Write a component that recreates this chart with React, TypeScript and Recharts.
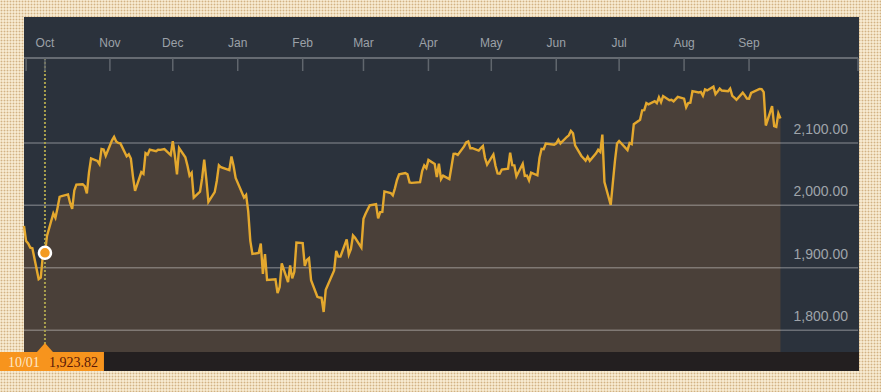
import {
  Area,
  ComposedChart,
  Line,
  ReferenceDot,
  ReferenceLine,
  XAxis,
  YAxis,
} from "recharts";

// one row per calendar month: trading days and closing levels
const months = [
  "2015-09", "2015-10", "2015-11", "2015-12", "2016-01", "2016-02", "2016-03",
  "2016-04", "2016-05", "2016-06", "2016-07", "2016-08", "2016-09",
];

const tradingDays = [
  [21, 22, 23, 24, 25, 28, 29, 30],
  [1, 2, 5, 6, 7, 8, 9, 12, 13, 14, 15, 16, 19, 20, 21, 22, 23, 26, 27, 28, 29, 30],
  [2, 3, 4, 5, 6, 9, 10, 11, 12, 13, 16, 17, 18, 19, 20, 23, 24, 25, 27, 30],
  [1, 2, 3, 4, 7, 8, 9, 10, 11, 14, 15, 16, 17, 18, 21, 22, 23, 24, 28, 29, 30, 31],
  [4, 5, 6, 7, 8, 11, 12, 13, 14, 15, 19, 20, 21, 22, 25, 26, 27, 28, 29],
  [1, 2, 3, 4, 5, 8, 9, 10, 11, 12, 16, 17, 18, 19, 22, 23, 24, 25, 26, 29],
  [1, 2, 3, 4, 7, 8, 9, 10, 11, 14, 15, 16, 17, 18, 21, 22, 23, 24, 28, 29, 30, 31],
  [1, 4, 5, 6, 7, 8, 11, 12, 13, 14, 15, 18, 19, 20, 21, 22, 25, 26, 27, 28, 29],
  [2, 3, 4, 5, 6, 9, 10, 11, 12, 13, 16, 17, 18, 19, 20, 23, 24, 25, 26, 27, 31],
  [1, 2, 3, 6, 7, 8, 9, 10, 13, 14, 15, 16, 17, 20, 21, 22, 23, 24, 27, 28, 29, 30],
  [1, 5, 6, 7, 8, 11, 12, 13, 14, 15, 18, 19, 20, 21, 22, 25, 26, 27, 28, 29],
  [1, 2, 3, 4, 5, 8, 9, 10, 11, 12, 15, 16, 17, 18, 19, 22, 23, 24, 25, 26, 29, 30, 31],
  [1, 2, 6, 7, 8, 9, 12, 13, 14, 15, 16],
];

const closes = [
  [1966.97, 1942.74, 1938.76, 1932.24, 1931.34, 1881.77, 1884.09, 1920.03],
  [1923.82, 1951.36, 1987.05, 1979.92, 1995.83, 2013.43, 2014.89, 2017.46, 2003.69, 1994.24, 2023.86,
    2033.11, 2033.66, 2030.77, 2018.94, 2052.51, 2075.15, 2071.18, 2065.89, 2090.35, 2089.41, 2079.36],
  [2104.05, 2109.79, 2102.31, 2099.93, 2099.2, 2078.58, 2081.72, 2075.0, 2045.97, 2023.04, 2053.19,
    2050.44, 2083.58, 2081.24, 2089.17, 2086.59, 2089.14, 2088.87, 2090.11, 2080.41],
  [2102.63, 2079.51, 2049.62, 2091.69, 2077.07, 2063.59, 2047.62, 2052.23, 2012.37, 2021.94, 2043.41,
    2073.07, 2041.89, 2005.55, 2021.15, 2038.97, 2064.29, 2060.99, 2056.5, 2078.36, 2063.36, 2043.94],
  [2012.66, 2016.71, 1990.26, 1943.09, 1922.03, 1923.67, 1938.68, 1890.28, 1921.84, 1880.33, 1881.33,
    1859.33, 1868.99, 1906.9, 1877.08, 1903.63, 1882.95, 1893.36, 1940.24],
  [1939.38, 1903.03, 1912.53, 1915.45, 1880.05, 1853.44, 1852.21, 1851.86, 1829.08, 1864.78, 1895.58,
    1926.82, 1917.83, 1917.78, 1945.5, 1921.27, 1929.8, 1951.7, 1948.05, 1932.23],
  [1978.35, 1986.45, 1993.4, 1999.99, 2001.76, 1979.26, 1989.26, 1989.57, 2022.19, 2019.64, 2015.93,
    2027.22, 2040.59, 2049.58, 2051.6, 2049.8, 2036.71, 2035.94, 2037.05, 2055.01, 2063.95, 2059.74],
  [2072.78, 2066.13, 2045.17, 2066.66, 2041.91, 2047.6, 2041.99, 2061.72, 2082.42, 2082.78, 2080.73,
    2094.34, 2100.8, 2102.4, 2091.48, 2091.58, 2087.79, 2091.7, 2095.15, 2075.81, 2065.3],
  [2081.43, 2063.37, 2051.12, 2050.63, 2057.14, 2058.69, 2084.39, 2064.46, 2064.11, 2046.61, 2066.66,
    2047.21, 2047.63, 2040.04, 2052.32, 2048.04, 2076.06, 2090.54, 2090.1, 2099.06, 2096.95],
  [2099.33, 2105.26, 2099.13, 2109.41, 2112.13, 2119.12, 2115.48, 2096.07, 2079.06, 2075.32, 2071.5,
    2077.99, 2071.22, 2083.25, 2088.9, 2085.45, 2113.32, 2037.41, 2000.54, 2036.09, 2070.77, 2098.86],
  [2102.95, 2088.55, 2099.73, 2097.9, 2129.9, 2137.16, 2152.14, 2152.43, 2163.75, 2161.74, 2166.89,
    2163.78, 2173.02, 2165.17, 2175.03, 2168.48, 2169.18, 2166.58, 2170.06, 2173.6],
  [2170.84, 2157.03, 2163.79, 2164.25, 2182.87, 2180.89, 2181.74, 2175.49, 2185.79, 2184.05, 2190.15,
    2178.15, 2182.22, 2187.02, 2183.87, 2182.64, 2186.9, 2175.44, 2172.47, 2169.04, 2180.38, 2176.12,
    2170.95],
  [2170.86, 2179.98, 2186.48, 2186.16, 2181.3, 2127.81, 2159.04, 2127.02, 2125.77, 2147.26, 2139.16],
];

const monthTicks = [
  "2015-10-01", "2015-11-01", "2015-12-01", "2016-01-01", "2016-02-01", "2016-03-01",
  "2016-04-01", "2016-05-01", "2016-06-01", "2016-07-01", "2016-08-01", "2016-09-01",
];
const monthLabels = ["Oct", "Nov", "Dec", "Jan", "Feb", "Mar", "Apr", "May", "Jun", "Jul", "Aug", "Sep"];

const axisStart = "2015-09-21";
const axisEnd = "2016-10-23";

const priceTicks = [1800, 1900, 2000, 2100];
const priceDomain = [1765, 2236];

const selectedDate = "2015-10-01";

const toTime = (s: string) => {
  const [y, m, d] = s.split("-").map(Number);
  return Date.UTC(y, m - 1, d);
};

const data: { t: number; close: number }[] = [];
months.forEach((m, i) => {
  tradingDays[i].forEach((d, j) => {
    data.push({ t: toTime(`${m}-${d}`), close: closes[i][j] });
  });
});

const selectedT = toTime(selectedDate);
const selectedClose = data.find((r) => r.t === selectedT)?.close ?? 0;

const xTicks = [toTime(axisStart) + 86400000, ...monthTicks.map(toTime), toTime(axisEnd)];
const labelByTime = new Map(monthTicks.map((s, i) => [toTime(s), monthLabels[i]]));

const SANS = "'Liberation Sans', Arial, sans-serif";
const SERIF = "'Liberation Serif', 'Times New Roman', serif";
const fmt = (v: number) => v.toLocaleString("en-US", { minimumFractionDigits: 2 });

function MonthTick(props: any) {
  const { x, y, payload } = props;
  const label = labelByTime.get(payload.value);
  return (
    <g>
      <line x1={x} x2={x} y1={y} y2={y + 13} stroke="#60666d" strokeWidth={1.5} />
      {label && (
        <text x={x} y={y - 11} textAnchor="middle" fill="#9ca1a8" fontSize={12} fontFamily={SANS}>
          {label}
        </text>
      )}
    </g>
  );
}

function GridLabel({ viewBox, value }: any) {
  return (
    <text
      x={viewBox.x + viewBox.width - 10}
      y={viewBox.y - 9}
      textAnchor="end"
      fill="#9fa4aa"
      fontSize={14}
      fontFamily={SANS}
    >
      {fmt(value)}
    </text>
  );
}

function SelectionTip({ viewBox }: any) {
  const x = viewBox.x;
  const bottom = viewBox.y + viewBox.height;
  const [, mm, dd] = selectedDate.split("-");
  return (
    <g>
      <path d={`M${x - 8},${bottom} L${x},${bottom - 9} L${x + 8},${bottom} Z`} fill="#f7941d" />
      <rect x={x - 45} y={bottom} width={104} height={19} fill="#f7941d" />
      <text x={x - 37} y={bottom + 14.5} fill="#fde8c8" fontSize={14} fontFamily={SERIF}>
        {`${mm}/${dd}`}
      </text>
      <text x={x + 4} y={bottom + 14.5} fill="#5a1808" fontSize={14} fontFamily={SERIF}>
        {fmt(selectedClose)}
      </text>
    </g>
  );
}

export default function App() {
  return (
    <div
      style={{
        position: "fixed",
        left: 0,
        top: 0,
        width: 881,
        height: 392,
        backgroundColor: "#f6e9cf",
        backgroundImage: "radial-gradient(circle, #d2b283 0.8px, transparent 1.1px)",
        backgroundSize: "3px 3px",
        overflow: "hidden",
      }}
    >
      <div
        style={{
          position: "absolute",
          left: 24,
          top: 17,
          width: 835,
          height: 354,
          background: "linear-gradient(to bottom, #2b323c 0, #2b323c 335px, #231f20 335px)",
        }}
      />
      <div style={{ position: "absolute", left: 0, top: 0 }}>
        <ComposedChart
          width={881}
          height={392}
          data={data}
          margin={{ top: 17, right: 23, bottom: 40, left: 24 }}
        >
          <XAxis
            dataKey="t"
            type="number"
            orientation="top"
            domain={[toTime(axisStart), toTime(axisEnd)]}
            ticks={xTicks}
            height={41}
            tickSize={0}
            tickMargin={0}
            tickLine={false}
            axisLine={{ stroke: "#666b72", strokeWidth: 2 }}
            tick={<MonthTick />}
            interval={0}
          />
          <YAxis type="number" domain={priceDomain} ticks={priceTicks} hide allowDataOverflow />
          <Area
            dataKey="close"
            type="linear"
            stroke="none"
            fill="#4a4039"
            fillOpacity={1}
            isAnimationActive={false}
          />
          {priceTicks.map((v) => (
            <ReferenceLine
              key={v}
              y={v}
              stroke="rgba(255,255,255,0.3)"
              strokeWidth={1.5}
              label={(p: any) => <GridLabel viewBox={p.viewBox} value={v} />}
            />
          ))}
          <Line
            dataKey="close"
            type="linear"
            stroke="#e4a82e"
            strokeWidth={2.4}
            dot={false}
            isAnimationActive={false}
          />
          <ReferenceLine
            x={selectedT}
            stroke="#a9a04e"
            strokeWidth={2}
            strokeDasharray="2 2"
            label={(p: any) => <SelectionTip viewBox={p.viewBox} />}
          />
          <ReferenceDot
            x={selectedT}
            y={selectedClose}
            r={6}
            fill="#f39a1f"
            stroke="#ffffff"
            strokeWidth={2.5}
          />
        </ComposedChart>
      </div>
    </div>
  );
}
